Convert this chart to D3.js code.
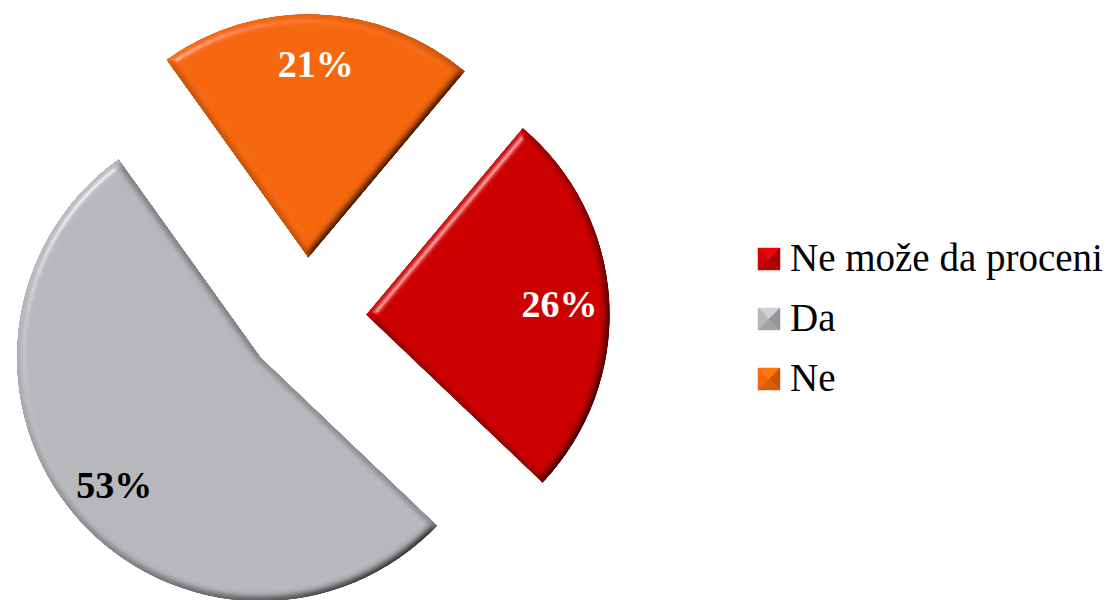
<!DOCTYPE html>
<html>
<head>
<meta charset="utf-8">
<script src="https://cdn.jsdelivr.net/npm/d3@7"></script>
<style>
  body { margin: 0; background: #fff; }
  svg { display: block; }
</style>
</head>
<body>
<svg id="chart" width="1110" height="600"></svg>
<script>
// podaci
var categories = ["Ne može da proceni", "Da", "Ne"];
var values = [26, 53, 21];
var colors = ["#cd0404", "#b6b8bc", "#f5680a"];
var labelColors = ["#ffffff", "#000000", "#ffffff"];

var width = 1110, height = 600;
var cx = 306, cy = 318;      // centar pite
var radius = 244;
var explode = 60;            // koliko su isečci izvučeni
var labelR = 194;
var startDeg = 40;

var svg = d3.select("#chart");

// bevel filter (svetlo sa gornje leve strane)
var defs = svg.append("defs");
var f = defs.append("filter")
  .attr("id", "bevel")
  .attr("x", "-10%").attr("y", "-10%")
  .attr("width", "120%").attr("height", "120%");
f.append("feGaussianBlur").attr("in", "SourceAlpha").attr("stdDeviation", 4.5).attr("result", "blur");
// ravna povrsina = 0.5, pa se posle mnozi sa 2
var diff = f.append("feDiffuseLighting")
  .attr("in", "blur").attr("surfaceScale", 8).attr("diffuseConstant", 0.577)
  .attr("lighting-color", "#fff").attr("result", "diff");
diff.append("feDistantLight").attr("azimuth", 225).attr("elevation", 60);
var spec = f.append("feSpecularLighting")
  .attr("in", "blur").attr("surfaceScale", 8).attr("specularConstant", 0.6)
  .attr("specularExponent", 40).attr("lighting-color", "#fff").attr("result", "spec");
spec.append("feDistantLight").attr("azimuth", 225).attr("elevation", 30);
f.append("feComposite").attr("in", "diff").attr("in2", "SourceAlpha").attr("operator", "in").attr("result", "diffIn");
f.append("feComposite").attr("in", "spec").attr("in2", "SourceAlpha").attr("operator", "in").attr("result", "specIn");
f.append("feComposite").attr("in", "SourceGraphic").attr("in2", "diffIn")
  .attr("operator", "arithmetic").attr("k1", 2).attr("k2", 0).attr("k3", 0).attr("k4", 0).attr("result", "lit");
f.append("feComposite").attr("in", "lit").attr("in2", "specIn")
  .attr("operator", "arithmetic").attr("k1", 0).attr("k2", 1).attr("k3", 0.5).attr("k4", 0).attr("result", "lit2");
f.append("feComposite").attr("in", "lit2").attr("in2", "SourceAlpha").attr("operator", "in");

var pie = d3.pie()
  .sort(null)
  .startAngle(startDeg * Math.PI / 180)
  .endAngle((startDeg + 360) * Math.PI / 180);

var arcs = pie(values);

var arc = d3.arc().innerRadius(0).outerRadius(radius);
var labelArc = d3.arc().innerRadius(labelR).outerRadius(labelR);

var g = svg.append("g").attr("transform", "translate(" + cx + "," + cy + ")");

var slice = g.selectAll("g.slice")
  .data(arcs)
  .enter()
  .append("g")
  .attr("class", "slice")
  .attr("transform", function(d) {
    var a = (d.startAngle + d.endAngle) / 2;
    return "translate(" + (Math.sin(a) * explode) + "," + (-Math.cos(a) * explode) + ")";
  });

slice.append("path")
  .attr("d", arc)
  .attr("fill", function(d, i) { return colors[i]; })
  .attr("filter", "url(#bevel)");

slice.append("text")
  .attr("transform", function(d) { return "translate(" + labelArc.centroid(d) + ")"; })
  .attr("text-anchor", "middle")
  .attr("dy", "0.35em")
  .style("font-family", "'Liberation Serif', 'DejaVu Serif', serif")
  .style("font-weight", "bold")
  .style("font-size", "38px")
  .attr("fill", function(d, i) { return labelColors[i]; })
  .text(function(d) { return d.value + "%"; });

// legenda
var legend = svg.append("g").attr("transform", "translate(758,248)");
var item = legend.selectAll("g.item")
  .data(categories)
  .enter()
  .append("g")
  .attr("class", "item")
  .attr("transform", function(d, i) { return "translate(0," + (i * 60) + ")"; });

var s = 22;
// marker kao mala piramida - 4 trougla
var tris = [
  { pts: [[0,0],[s,0],[s/2,s/2]], k: 0.35 },   // gore
  { pts: [[0,0],[0,s],[s/2,s/2]], k: 0.0 },    // levo
  { pts: [[s,0],[s,s],[s/2,s/2]], k: -0.6 },   // desno
  { pts: [[0,s],[s,s],[s/2,s/2]], k: -0.35 }   // dole
];
item.each(function(d, i) {
  var el = d3.select(this);
  tris.forEach(function(t) {
    var c = d3.color(colors[i]);
    c = t.k >= 0 ? c.brighter(t.k) : c.darker(-t.k);
    el.append("path")
      .attr("d", "M" + t.pts.map(function(p) { return p.join(","); }).join("L") + "Z")
      .attr("fill", c.toString())
      .attr("stroke", c.toString())
      .attr("stroke-width", 0.5);
  });
});

item.append("text")
  .attr("x", 32)
  .attr("y", 23)
  .style("font-family", "'Liberation Serif', 'DejaVu Serif', serif")
  .style("font-size", "39px")
  .attr("fill", "#000")
  .text(function(d) { return d; });
</script>
</body>
</html>
